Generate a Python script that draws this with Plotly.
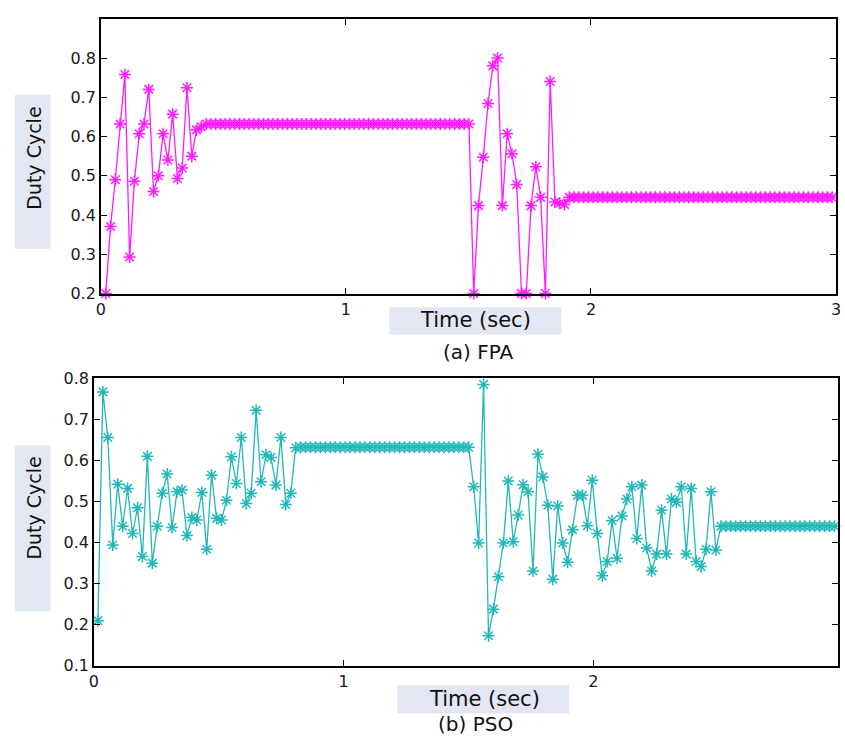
import numpy as np
import plotly.graph_objects as go

# ---------------- data ----------------
# FPA (top panel)
fpa_t0 = 0.02
fpa_dt = 0.0195
fpa_rise = [0.2, 0.371, 0.49, 0.632, 0.758, 0.293, 0.486, 0.607, 0.632, 0.72,
            0.46, 0.50, 0.607, 0.54, 0.657, 0.493, 0.52, 0.724, 0.55, 0.617, 0.625]
fpa_hold1_level, fpa_hold1_count = 0.632, 56
fpa_step = [0.2, 0.424, 0.547, 0.684, 0.78, 0.80, 0.424, 0.607, 0.556, 0.478,
            0.2, 0.2, 0.424, 0.523, 0.445, 0.2, 0.74, 0.433, 0.43, 0.427]
fpa_hold2_level, fpa_hold2_count = 0.445, 56

# PSO (bottom panel)
pso_t0 = 0.016
pso_dt = 0.0198
pso_rise = [0.21, 0.767, 0.656, 0.394, 0.542, 0.44, 0.532, 0.422, 0.485, 0.366,
            0.61, 0.35, 0.44, 0.52, 0.567, 0.437, 0.524, 0.528, 0.417, 0.461,
            0.455, 0.522, 0.384, 0.564, 0.459, 0.455, 0.503, 0.609, 0.544, 0.656,
            0.495, 0.52, 0.722, 0.548, 0.614, 0.607, 0.54, 0.656, 0.493, 0.52, 0.631]
pso_hold1_level, pso_hold1_count = 0.632, 35
pso_step = [0.536, 0.399, 0.785, 0.173, 0.238, 0.317, 0.399, 0.55, 0.402, 0.467,
            0.541, 0.524, 0.331, 0.615, 0.56, 0.491, 0.311, 0.489, 0.399, 0.352,
            0.431, 0.515, 0.515, 0.441, 0.552, 0.422, 0.319, 0.354, 0.453, 0.362,
            0.465, 0.506, 0.536, 0.41, 0.54, 0.387, 0.331, 0.372, 0.479, 0.372,
            0.506, 0.498, 0.536, 0.372, 0.532, 0.354, 0.342, 0.384, 0.524, 0.382, 0.44]
pso_hold2_level, pso_hold2_count = 0.44, 24

x_ticks = [0, 1, 2, 3]
fpa_yticks = [0.2, 0.3, 0.4, 0.5, 0.6, 0.7, 0.8]
pso_yticks = [0.1, 0.2, 0.3, 0.4, 0.5, 0.6, 0.7, 0.8]

fpa_y = fpa_rise + [fpa_hold1_level] * fpa_hold1_count + fpa_step + [fpa_hold2_level] * fpa_hold2_count
pso_y = pso_rise + [pso_hold1_level] * pso_hold1_count + pso_step + [pso_hold2_level] * pso_hold2_count
fpa_t = fpa_t0 + fpa_dt * np.arange(len(fpa_y))
pso_t = pso_t0 + pso_dt * np.arange(len(pso_y))

W, H = 845, 745
def px(x): return x / W
def py(y): return 1 - y / H

MAGENTA = "#ff1aff"
TEAL = "#22b8b8"
FONT = "DejaVu Sans, Liberation Sans, Arial, sans-serif"

fig = go.Figure()
fig.add_trace(go.Scatter(x=fpa_t, y=fpa_y, mode="lines+markers", xaxis="x", yaxis="y",
                         line=dict(color=MAGENTA, width=1.3),
                         marker=dict(symbol="asterisk-open", size=10, color=MAGENTA,
                                     line=dict(color=MAGENTA, width=1.5)),
                         cliponaxis=False, showlegend=False))
fig.add_trace(go.Scatter(x=pso_t, y=pso_y, mode="lines+markers", xaxis="x2", yaxis="y2",
                         line=dict(color=TEAL, width=1.3),
                         marker=dict(symbol="asterisk-open", size=10, color=TEAL,
                                     line=dict(color=TEAL, width=1.5)),
                         cliponaxis=False, showlegend=False))

axis_common = dict(showline=True, linecolor="black", linewidth=1.6, mirror="ticks",
                   ticks="inside", ticklen=6, tickcolor="black", tickwidth=1.3,
                   showgrid=False, zeroline=False, ticklabeloverflow="allow",
                   tickfont=dict(family=FONT, size=16, color="#1a1a1a"))

fig.update_layout(
    width=W, height=H, margin=dict(l=0, r=0, t=0, b=0),
    paper_bgcolor="white", plot_bgcolor="white",
    xaxis=dict(domain=[px(97), px(841)], range=[0, 3], tickvals=x_ticks,
               anchor="y", **axis_common),
    yaxis=dict(domain=[py(292), py(10)], range=[0.2, 0.9], tickvals=fpa_yticks,
               anchor="x", **axis_common),
    xaxis2=dict(domain=[px(90), px(843)], range=[0, 2.98], tickvals=x_ticks,
                anchor="y2", **axis_common),
    yaxis2=dict(domain=[py(674), py(379)], range=[0.1, 0.8], tickvals=pso_yticks,
                anchor="x2", **axis_common),
)

# label background boxes
box_color = "#e3e7f3"
shapes = [
    dict(type="rect", xref="paper", yref="paper", x0=px(10), x1=px(46), y0=py(246), y1=py(88),
         fillcolor=box_color, line=dict(width=0), layer="below"),
    dict(type="rect", xref="paper", yref="paper", x0=px(10), x1=px(46), y0=py(618), y1=py(448),
         fillcolor=box_color, line=dict(width=0), layer="below"),
    dict(type="rect", xref="paper", yref="paper", x0=px(389), x1=px(563), y0=py(334), y1=py(306),
         fillcolor=box_color, line=dict(width=0), layer="below"),
    dict(type="rect", xref="paper", yref="paper", x0=px(397), x1=px(571), y0=py(723), y1=py(694),
         fillcolor=box_color, line=dict(width=0), layer="below"),
]
fig.update_layout(shapes=shapes)

def ann(text, x, y, size, angle=0):
    return dict(text=text, xref="paper", yref="paper", x=px(x), y=py(y),
                xanchor="center", yanchor="middle", showarrow=False, textangle=angle,
                font=dict(family=FONT, size=size, color="#111"))

fig.update_layout(annotations=[
    ann("Duty Cycle", 29, 153, 19, -90),
    ann("Duty Cycle", 29, 512, 19, -90),
    ann("Time (sec)", 476, 319, 21),
    ann("(a) FPA", 479, 352, 20),
    ann("Time (sec)", 485, 708, 21),
    ann("(b) PSO", 476, 734, 20),
])

fig.write_html("out.html")
